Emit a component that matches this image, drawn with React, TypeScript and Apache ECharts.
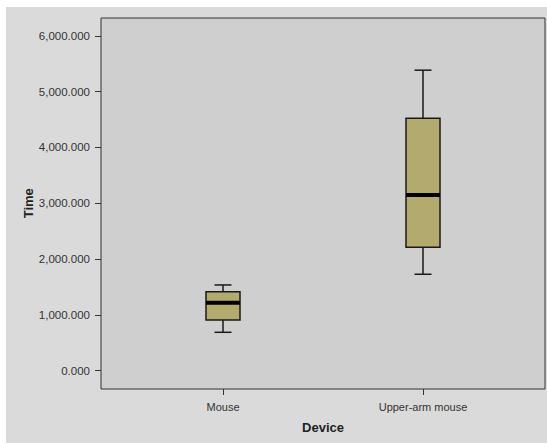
import React, { useEffect, useRef } from "react";
import * as echarts from "echarts";

const categories = ["Mouse", "Upper-arm mouse"];
const whiskerLow = [688, 1728];
const quartile1 = [909, 2211];
const medians = [1219, 3149];
const quartile3 = [1416, 4523];
const whiskerHigh = [1536, 5384];
const yTicks = [0, 1000, 2000, 3000, 4000, 5000, 6000];
const yBoxMin = -328;

const fmt = (v: number) =>
  v.toLocaleString("en-US", { minimumFractionDigits: 3, maximumFractionDigits: 3 });

export default function App() {
  const ref = useRef<HTMLDivElement>(null);
  useEffect(() => {
    if (!ref.current) return;
    const chart = echarts.init(ref.current, null, { renderer: "svg" });
    const data = categories.map((_, i) => [
      i,
      whiskerLow[i],
      quartile1[i],
      medians[i],
      quartile3[i],
      whiskerHigh[i],
    ]);
    const font = "'Liberation Sans', Arial, sans-serif";
    chart.setOption({
      animation: false,
      backgroundColor: "#dadada",
      graphic: [
        { type: "rect", shape: { x: 0, y: 0, width: 547, height: 7 }, style: { fill: "#ffffff" } },
        { type: "rect", shape: { x: 0, y: 0, width: 6, height: 443 }, style: { fill: "#ffffff" } },
      ],
      grid: [
        {
          left: 101, right: 2, top: 18, bottom: 54,
          show: true, backgroundColor: "#cfcfcf", borderColor: "#333", borderWidth: 1,
        },
        { left: 101, right: 2, top: 35.8, bottom: 72.3 },
        { left: 123, right: 24, top: 35.8, bottom: 54 },
      ],
      xAxis: [
        { gridIndex: 0, type: "value", show: false },
        { gridIndex: 1, type: "value", show: false },
        {
          gridIndex: 2,
          type: "category",
          data: categories,
          position: "bottom",
          axisLine: { show: false, onZero: false },
          axisTick: { show: true, alignWithLabel: true, length: 6, lineStyle: { color: "#333" } },
          axisLabel: { margin: 12, fontSize: 11, color: "#333", fontFamily: font },
          splitLine: { show: false },
          name: "Device",
          nameLocation: "middle",
          nameGap: 32,
          nameMoveOverlap: false,
          nameTextStyle: { fontSize: 13, fontWeight: "bold", color: "#222", fontFamily: font },
        },
      ],
      yAxis: [
        { gridIndex: 0, type: "value", show: false },
        {
          gridIndex: 1,
          type: "value",
          min: yTicks[0],
          max: yTicks[yTicks.length - 1],
          interval: 1000,
          axisLine: { show: false },
          axisTick: { show: true, length: 6, lineStyle: { color: "#333" } },
          axisLabel: { margin: 11, fontSize: 11.5, color: "#333", fontFamily: font, formatter: fmt },
          splitLine: { show: false },
          name: "Time",
          nameLocation: "middle",
          nameGap: 66,
          nameMoveOverlap: false,
          nameTextStyle: { fontSize: 13, fontWeight: "bold", color: "#222", fontFamily: font },
        },
        {
          gridIndex: 2,
          type: "value",
          min: yBoxMin,
          max: yTicks[yTicks.length - 1],
          show: false,
        },
      ],
      series: [
        {
          type: "custom",
          xAxisIndex: 2,
          yAxisIndex: 2,
          data,
          encode: { x: 0, y: [1, 2, 3, 4, 5] },
          renderItem: (params: any, api: any) => {
            const x = api.value(0);
            const low = api.coord([x, api.value(1)]);
            const q1 = api.coord([x, api.value(2)]);
            const med = api.coord([x, api.value(3)]);
            const q3 = api.coord([x, api.value(4)]);
            const high = api.coord([x, api.value(5)]);
            const bw = 34;
            const cap = 17;
            const cx = low[0];
            const lineStyle = { stroke: "#1a1a1a", lineWidth: 1.5 };
            return {
              type: "group",
              children: [
                { type: "line", shape: { x1: cx, y1: high[1], x2: cx, y2: q3[1] }, style: lineStyle },
                { type: "line", shape: { x1: cx, y1: q1[1], x2: cx, y2: low[1] }, style: lineStyle },
                { type: "line", shape: { x1: cx - cap / 2, y1: high[1], x2: cx + cap / 2, y2: high[1] }, style: lineStyle },
                { type: "line", shape: { x1: cx - cap / 2, y1: low[1], x2: cx + cap / 2, y2: low[1] }, style: lineStyle },
                {
                  type: "rect",
                  shape: { x: cx - bw / 2, y: q3[1], width: bw, height: q1[1] - q3[1] },
                  style: { fill: "#b3ab6d", stroke: "#1a1a1a", lineWidth: 1.5 },
                },
                { type: "line", shape: { x1: cx - bw / 2, y1: med[1], x2: cx + bw / 2, y2: med[1] }, style: { stroke: "#000", lineWidth: 4 } },
              ],
            };
          },
        },
      ],
    });
    return () => chart.dispose();
  }, []);
  return (
    <div
      ref={ref}
      style={{ position: "fixed", left: 0, top: 0, width: 547, height: 443 }}
    />
  );
}
